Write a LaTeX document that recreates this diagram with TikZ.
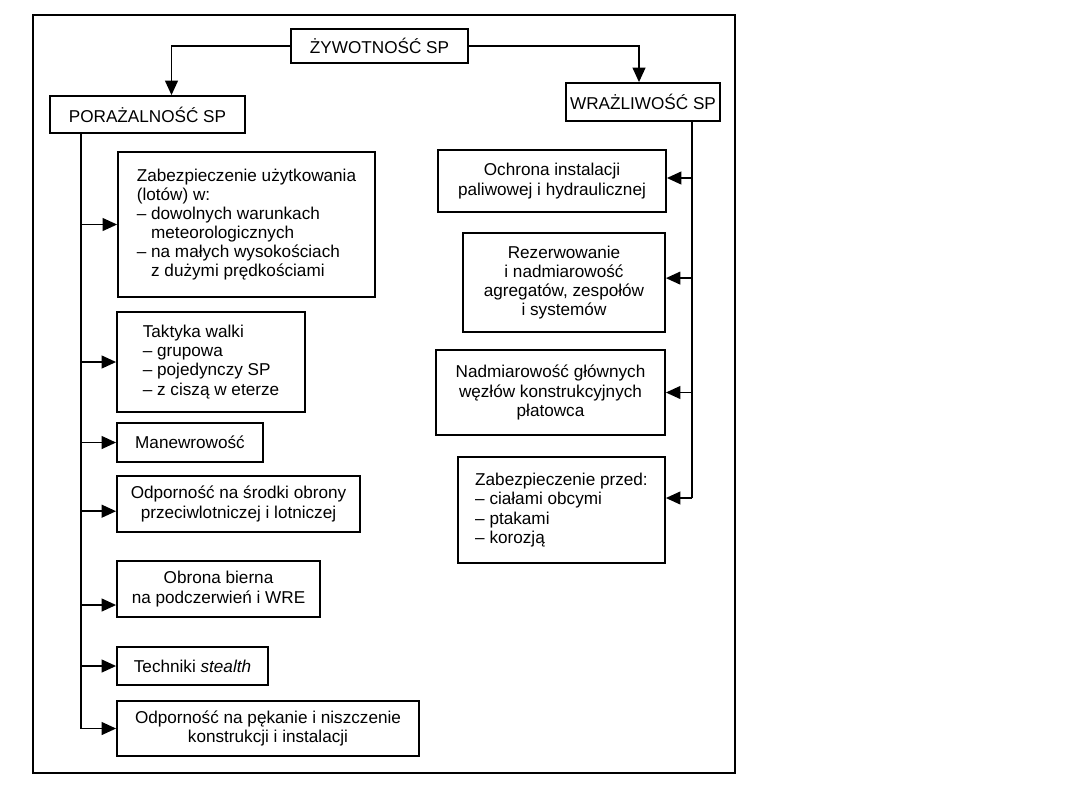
\documentclass[tikz,border=0pt]{standalone}
\usepackage{fontspec}
\setmainfont{Liberation Sans}
\usetikzlibrary{arrows.meta,positioning,calc}

\begin{document}
\begin{tikzpicture}[
    box/.style={draw, line width=1.3pt, inner sep=0pt, align=center},
    lbox/.style={box, align=left},
    link/.style={line width=1.1pt},
    arr/.style={link, -{Triangle[length=3.6mm,width=3.2mm]}},
    every node/.style={font=\fontsize{12.2}{13.6}\selectfont}
]
\useasboundingbox (0,0) rectangle (27,-20.25);
\draw[line width=1.4pt] (0.825,-0.375) rectangle (18.375,-19.325);

\node[box, minimum width=4.425cm, minimum height=0.85cm] (zyw) at (9.4875,-1.15) {ŻYWOTNOŚĆ SP};
\node[box, minimum width=4.875cm, minimum height=0.925cm] (por) at (3.6875,-2.8625) {PORAŻALNOŚĆ SP};
\node[box, minimum width=3.85cm, minimum height=0.95cm] (wra) at (16.075,-2.55) {WRAŻLIWOŚĆ SP};

\node[lbox, minimum width=6.425cm, minimum height=3.625cm] (zab) at (6.1625,-5.6125)
    {Zabezpieczenie użytkowania\\(lotów) w:\\– dowolnych warunkach\\\hphantom{– }meteorologicznych\\– na małych wysokościach\\\hphantom{– }z dużymi prędkościami};
\node[lbox, minimum width=4.7cm, minimum height=2.5cm] (tak) at (5.275,-9.05)
    {Taktyka walki\\– grupowa\\– pojedynczy SP\\– z ciszą w eterze};
\node[box, minimum width=3.65cm, minimum height=0.975cm] (man) at (4.75,-11.0625) {Manewrowość};
\node[box, minimum width=6.075cm, minimum height=1.4cm] (odp) at (5.9625,-12.6)
    {Odporność na środki obrony\\przeciwlotniczej i lotniczej};
\node[box, minimum width=5.075cm, minimum height=1.4cm] (obr) at (5.4625,-14.725)
    {Obrona bierna\\na podczerwień i WRE};
\node[box, minimum width=3.775cm, minimum height=0.95cm] (tech) at (4.8125,-16.65) {Techniki \textit{stealth}};
\node[box, minimum width=7.55cm, minimum height=1.375cm] (pek) at (6.7,-18.2125)
    {Odporność na pękanie i niszczenie\\konstrukcji i instalacji};

\node[box, minimum width=5.7cm, minimum height=1.55cm] (och) at (13.8,-4.525)
    {Ochrona instalacji\\paliwowej i hydraulicznej};
\node[box, minimum width=5.05cm, minimum height=2.475cm] (rez) at (14.1,-7.0625)
    {Rezerwowanie\\i nadmiarowość\\agregatów, zespołów\\i systemów};
\node[box, minimum width=5.725cm, minimum height=2.125cm] (nad) at (13.7625,-9.8125)
    {Nadmiarowość głównych\\węzłów konstrukcyjnych\\płatowca};
\node[lbox, minimum width=5.175cm, minimum height=2.65cm] (prz) at (14.0375,-12.75)
    {Zabezpieczenie przed:\\– ciałami obcymi\\– ptakami\\– korozją};

\coordinate (lt) at (2.025,0);
\coordinate (rt) at (17.3,0);
\coordinate (przin) at ([yshift=0.3cm]prz.east);

\draw[arr] (zyw.west) -| ([xshift=0.6cm]por.north);
\draw[arr] (zyw.east) -| ([xshift=-0.1cm]wra.north);

\draw[link] (lt |- por.south) -- (lt |- pek.west);
\foreach \n/\s in {zab/0,tak/0,man/0,odp/-0.18,obr/-0.4,tech/0,pek/0} {
    \coordinate (p) at ([yshift=\s cm]\n.west);
    \draw[arr] (lt |- p) -- (p);
}

\draw[link] (rt |- wra.south) -- (rt |- przin);
\foreach \n/\s in {och/0.075,rez/0.11,nad/0,prz/0.3} {
    \coordinate (p) at ([yshift=\s cm]\n.east);
    \draw[arr] (rt |- p) -- (p);
}
\end{tikzpicture}
\end{document}
